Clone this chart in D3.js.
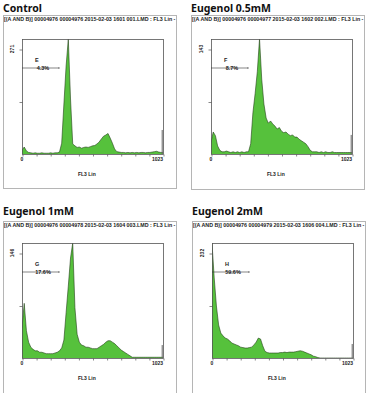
<!DOCTYPE html>
<html lang="en">
<head>
<meta charset="UTF-8">
<title>Cell cycle histograms</title>
<script src="https://d3js.org/d3.v7.min.js"></script>
<style>
  body { margin: 0; background: #fff; }
  svg { display: block; }
  .title { font-family: "Noto Sans", sans-serif; font-weight: 700; font-size: 10.5px; fill: #111; }
  .small { font-family: "Liberation Sans", Arial, sans-serif; font-weight: 700; fill: #222; }
</style>
</head>
<body>
<svg width="369" height="393"></svg>
<script>
// panel texts
const titles = ["Control", "Eugenol 0.5mM", "Eugenol 1mM", "Eugenol 2mM"];
const headers = [
  "[(A AND B)] 00004976 00004976 2015-02-03 1601 001.LMD : FL3 Lin - AI",
  "[(A AND B)] 00004976 00004977 2015-02-03 1602 002.LMD : FL3 Lin - AI",
  "[(A AND B)] 00004976 00004978 2015-02-03 1604 003.LMD : FL3 Lin - AI",
  "[(A AND B)] 00004976 00004979 2015-02-03 1606 004.LMD : FL3 Lin - AI"
];
const yMaxLabels = [271, 143, 146, 232];
const regionNames = ["E", "F", "G", "H"];
const regionPcts = ["4.3%", "8.7%", "17.6%", "59.6%"];
const xTickLabels = ["0", "1023"];
const xAxisTitle = "FL3 Lin";

// counts per 16-channel step (channels 0, 16, ... 1008)
const binWidth = 16;
const control = [10, 18, 8, 4, 3, 2, 3, 2, 2, 3, 2, 2, 2, 3, 2, 3,
  3, 5, 28, 129, 227, 297, 142, 26, 21, 17, 18, 15, 17, 18, 17, 19,
  21, 22, 26, 31, 39, 46, 49, 53, 41, 28, 13, 6, 5, 4, 4, 3,
  4, 3, 4, 3, 4, 3, 4, 4, 3, 4, 4, 5, 6, 7, 5, 4];
const eugenol05 = [16, 30, 25, 11, 5, 3, 3, 4, 3, 2, 3, 2, 3, 2, 3, 2,
  3, 3, 14, 56, 82, 112, 157, 102, 68, 49, 42, 45, 41, 38, 34, 36,
  31, 29, 30, 27, 25, 26, 23, 23, 20, 18, 16, 14, 10, 5, 3, 3,
  3, 2, 3, 2, 3, 2, 2, 3, 2, 2, 2, 2, 2, 2, 2, 2];
const eugenol1 = [42, 76, 38, 22, 15, 12, 10, 10, 8, 8, 7, 6, 6, 6, 6, 7,
  8, 10, 14, 25, 63, 100, 139, 160, 70, 33, 22, 18, 17, 15, 15, 14,
  13, 13, 13, 15, 17, 19, 22, 24, 24, 22, 20, 17, 14, 11, 9, 7,
  5, 3, 1, 1, 1, 1, 1, 1, 1, 1, 1, 1, 1, 1, 1, 1];
const eugenol2 = [254, 177, 115, 73, 55, 49, 44, 42, 38, 33, 31, 29, 27, 24, 23, 22,
  22, 23, 24, 29, 35, 44, 42, 27, 15, 12, 11, 11, 11, 11, 11, 12,
  12, 13, 12, 13, 13, 13, 14, 15, 16, 15, 13, 11, 9, 7, 4, 3,
  1, 0, 0, 0, 0, 0, 0, 0, 0, 0, 0, 0, 0, 0, 0, 0];
const series = [control, eugenol05, eugenol1, eugenol2];
// pile-up at the last channel
const overflowCounts = [62, 26, 18, 31];

// layout
const boxX = [3, 191, 3, 192];
const boxY = [15, 15, 221, 221];
const boxH = [173, 174, 172, 172];
const boxW = 174;
const titleY = [12, 12, 215, 215];
const frameX = [22, 211, 22, 212];
const frameY = [39, 39, 243, 243];
const frameW = 141, frameH = 115, labelH = 105;

const svg = d3.select("svg");

titles.forEach((t, p) => {
  const g = svg.append("g");

  g.append("text").attr("class", "title")
    .attr("x", boxX[p]).attr("y", titleY[p]).text(t);

  g.append("rect")
    .attr("x", boxX[p] + 0.5).attr("y", boxY[p] + 0.5)
    .attr("width", boxW - 1).attr("height", boxH[p])
    .attr("fill", "none").attr("stroke", "#b5b5b5");

  const clipId = "box" + p;
  svg.append("clipPath").attr("id", clipId)
    .append("rect").attr("x", boxX[p]).attr("y", boxY[p])
    .attr("width", boxW - 1).attr("height", 12);
  g.append("text").attr("class", "small")
    .attr("clip-path", `url(#${clipId})`)
    .attr("x", boxX[p] + 1).attr("y", boxY[p] + 6)
    .attr("font-size", 4.6)
    .attr("textLength", 178).attr("lengthAdjust", "spacingAndGlyphs")
    .text(headers[p]);

  const x = d3.scaleLinear().domain([0, 1023]).range([frameX[p], frameX[p] + frameW]);
  const yTop = yMaxLabels[p] * frameH / labelH;
  const y = d3.scaleLinear().domain([0, yTop]).range([frameY[p] + frameH, frameY[p]]);

  const pts = series[p].map((v, i) => [i * binWidth, v]);
  pts.push([1023, series[p][series[p].length - 1]]);

  const plotClip = "plot" + p;
  svg.append("clipPath").attr("id", plotClip)
    .append("rect").attr("x", frameX[p]).attr("y", frameY[p])
    .attr("width", frameW).attr("height", frameH);

  const area = d3.area().x(d => x(d[0])).y0(y(0)).y1(d => y(d[1]));
  const line = d3.line().x(d => x(d[0])).y(d => y(d[1]));

  const hg = g.append("g").attr("clip-path", `url(#${plotClip})`);
  hg.append("path").datum(pts).attr("d", area).attr("fill", "#56c13c");
  hg.append("path").datum(pts).attr("d", line)
    .attr("fill", "none").attr("stroke", "#24401a").attr("stroke-width", 0.6);
  hg.append("line")
    .attr("x1", x(1023) - 0.8).attr("x2", x(1023) - 0.8)
    .attr("y1", y(0)).attr("y2", y(overflowCounts[p]))
    .attr("stroke", "#666").attr("stroke-width", 1);

  // frame
  g.append("rect")
    .attr("x", frameX[p] + 0.5).attr("y", frameY[p] + 0.5)
    .attr("width", frameW).attr("height", frameH)
    .attr("fill", "none").attr("stroke", "#555").attr("stroke-width", 0.8);

  // x axis ticks
  const xAxis = d3.axisBottom(x).tickValues(d3.range(0, 11).map(k => k * 102.3))
    .tickSize(2).tickFormat("");
  g.append("g").attr("transform", `translate(0.5,${frameY[p] + frameH + 0.5})`).call(xAxis)
    .call(a => a.select(".domain").remove())
    .call(a => a.selectAll("line").attr("stroke", "#555").attr("stroke-width", 0.7));

  g.append("text").attr("class", "small").attr("font-size", 5)
    .attr("x", x(0)).attr("y", frameY[p] + frameH + 7)
    .attr("text-anchor", "middle").text(xTickLabels[0]);
  g.append("text").attr("class", "small").attr("font-size", 5)
    .attr("x", x(1023)).attr("y", frameY[p] + frameH + 7)
    .attr("text-anchor", "end").text(xTickLabels[1]);
  g.append("text").attr("class", "small").attr("font-size", 5)
    .attr("x", frameX[p] + frameW * 0.46).attr("y", frameY[p] + frameH + 22)
    .attr("text-anchor", "middle").text(xAxisTitle);

  // y axis ticks
  const yAxis = d3.axisLeft(y).tickValues([yMaxLabels[p], yMaxLabels[p] / 2])
    .tickSize(3).tickFormat("");
  g.append("g").attr("transform", `translate(${frameX[p] + 0.5},0.5)`).call(yAxis)
    .call(a => a.select(".domain").remove())
    .call(a => a.selectAll("line").attr("stroke", "#555").attr("stroke-width", 0.7));
  g.append("text").attr("class", "small").attr("font-size", 5)
    .attr("transform", `translate(${frameX[p] - 8},${y(yMaxLabels[p])}) rotate(-90)`)
    .attr("text-anchor", "middle").text(yMaxLabels[p]);

  // region marker
  const markY = frameY[p] + 29;
  const markEnd = x(0) + 37;
  g.append("line").attr("x1", x(0)).attr("x2", markEnd)
    .attr("y1", markY).attr("y2", markY)
    .attr("stroke", "#333").attr("stroke-width", 0.6);
  g.append("line").attr("x1", markEnd).attr("x2", markEnd)
    .attr("y1", markY - 1).attr("y2", markY + 1)
    .attr("stroke", "#333").attr("stroke-width", 0.6);
  g.append("text").attr("class", "small").attr("font-size", 5.5)
    .attr("x", x(0) + 13).attr("y", markY - 6.5)
    .text(regionNames[p]);
  g.append("text").attr("class", "small").attr("font-size", 5.5)
    .attr("x", x(0) + 21).attr("y", markY + 1.5)
    .attr("text-anchor", "middle").text(regionPcts[p]);
});
</script>
</body>
</html>
